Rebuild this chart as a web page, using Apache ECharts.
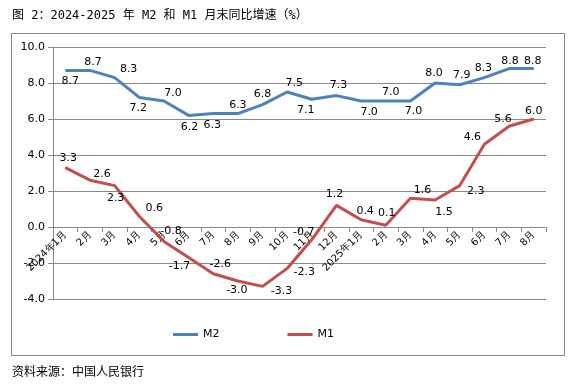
<!DOCTYPE html>
<html>
<head>
<meta charset="utf-8">
<script src="https://cdn.jsdelivr.net/npm/echarts/dist/echarts.min.js"></script>
<style>
html,body{margin:0;padding:0;background:#fff;}
#c{width:583px;height:385px;}
</style>
</head>
<body>
<div id="c"></div>
<script>
const categories = ['2024年1月','2月','3月','4月','5月','6月','7月','8月','9月','10月','11月','12月',
  '2025年1月','2月','3月','4月','5月','6月','7月','8月'];
const m2Values = [8.7, 8.7, 8.3, 7.2, 7.0, 6.2, 6.3, 6.3, 6.8, 7.5, 7.1, 7.3, 7.0, 7.0, 7.0, 8.0, 7.9, 8.3, 8.8, 8.8];
const m1Values = [3.3, 2.6, 2.3, 0.6, -0.8, -1.7, -2.6, -3.0, -3.3, -2.3, -0.7, 1.2, 0.4, 0.1, 1.6, 1.5, 2.3, 4.6, 5.6, 6.0];
const yTicks = { min: -4, max: 10, interval: 2 };
const seriesNames = ['M2', 'M1'];
const titleText = '图 2：2024-2025 年 M2 和 M1 月末同比增速（%）';
const sourceText = '资料来源：中国人民银行';

// label offsets (styling, pixels relative to point)
const m2LabelOffsets = [[5,11],[3,-8],[14,-8],[-1,11],[9,-8],[1,12],[-1,12],[0,-8],[0,-10],[7,-9],
  [-6,11],[2,-10],[8,11],[5,-9],[3,10],[-1,-10],[2,-10],[-1,-9],[1,-7],[-1,-7]];
const m1LabelOffsets = [[3,-9],[12,-6],[1,13],[15,-8],[7,-10],[-9,9],[7,-10],[-1,9],[19,5],[17,4],
  [-8,-7],[-2,-11],[4,-9],[1,-12],[12,-8],[9,12],[16,6],[-12,-7],[-6,-7],[0,-8]];

const labelFont = { fontFamily: 'DejaVu Sans', fontSize: 11, color: '#000' };

function buildData(values, offsets) {
  return values.map((v, i) => ({
    value: v,
    label: { show: true, position: 'inside', offset: offsets[i], formatter: (p) => p.value.toFixed(1), ...labelFont }
  }));
}

const gridTop = 47, gridBottom = 86, H = 385;
const plotH = H - gridTop - gridBottom;
// distance from bottom of plot to the zero line, computed through the axis range
const zeroShift = plotH * (0 - yTicks.min) / (yTicks.max - yTicks.min);

const chart = echarts.init(document.getElementById('c'), null, { renderer: 'canvas' });
chart.setOption({
  animation: false,
  backgroundColor: '#fff',
  graphic: [
    { type: 'rect', shape: { x: 11.5, y: 33.5, width: 553, height: 322 }, style: { fill: 'none', stroke: '#888', lineWidth: 1 } },
    { type: 'text', left: 12, top: 10, style: { text: titleText, font: '12px "DejaVu Sans Mono", "Noto Sans CJK SC"', fill: '#000' } },
    { type: 'text', left: 12, top: 365, style: { text: sourceText, font: '12px "Noto Sans CJK SC"', fill: '#000' } }
  ],
  grid: { left: 53, right: 37, top: gridTop, bottom: gridBottom, containLabel: false },
  legend: {
    data: seriesNames,
    left: 168, top: 324,
    icon: 'rect', itemWidth: 25, itemHeight: 3, itemGap: 68,
    textStyle: { fontFamily: 'DejaVu Sans', fontSize: 11, color: '#000' }
  },
  xAxis: {
    type: 'category',
    data: categories,
    boundaryGap: true,
    offset: -zeroShift,
    axisLine: { onZero: false, lineStyle: { color: '#888', width: 1 } },
    axisTick: { show: true, length: 5, lineStyle: { color: '#888' } },
    axisLabel: { rotate: 45, margin: 6, interval: 0, fontFamily: 'DejaVu Sans', fontSize: 10, color: '#000' },
    splitLine: { show: false }
  },
  yAxis: {
    type: 'value',
    min: yTicks.min, max: yTicks.max, interval: yTicks.interval,
    axisLine: { show: true, lineStyle: { color: '#888' } },
    axisTick: { show: true, length: 5, lineStyle: { color: '#888' } },
    axisLabel: { margin: 8, formatter: (v) => v.toFixed(1), fontFamily: 'DejaVu Sans', fontSize: 11, color: '#000' },
    splitLine: { show: true, lineStyle: { color: '#888', width: 1 } }
  },
  series: [
    {
      name: seriesNames[0], type: 'line', data: buildData(m2Values, m2LabelOffsets),
      symbol: 'circle', symbolSize: 1, showSymbol: true,
      lineStyle: { color: '#4F81BD', width: 3 }, itemStyle: { color: '#4F81BD' }
    },
    {
      name: seriesNames[1], type: 'line', data: buildData(m1Values, m1LabelOffsets),
      symbol: 'circle', symbolSize: 1, showSymbol: true,
      lineStyle: { color: '#C0504D', width: 3 }, itemStyle: { color: '#C0504D' }
    }
  ]
});
</script>
</body>
</html>
